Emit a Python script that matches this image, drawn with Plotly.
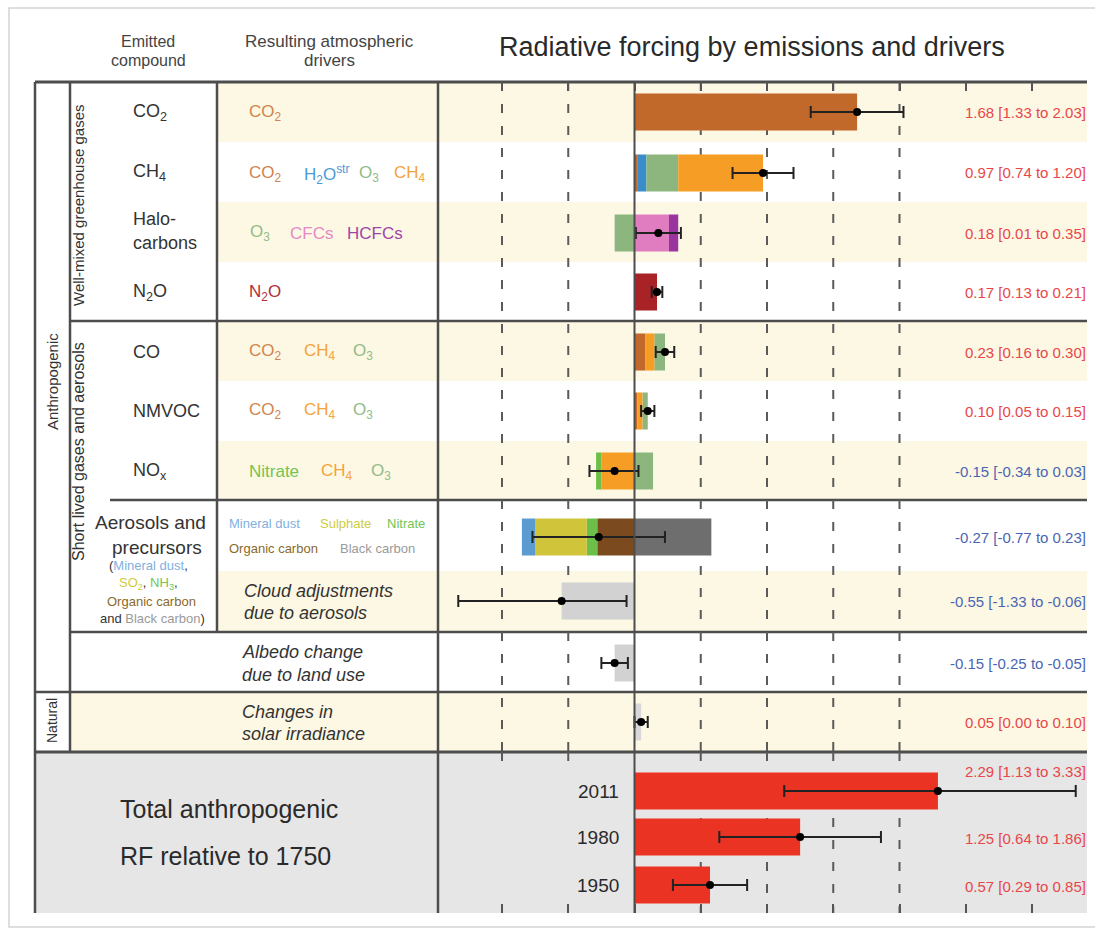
import plotly.graph_objects as go

W, H = 1095, 928

# ---------------- data ----------------
row_names = ["CO2", "CH4", "Halocarbons", "N2O", "CO", "NMVOC", "NOx",
             "Aerosols", "Cloud adjustments", "Albedo", "Solar"]

part_names = [
    ["CO2"],
    ["CO2", "H2O", "O3", "CH4"],
    ["O3", "CFCs", "HCFCs"],
    ["N2O"],
    ["CO2", "CH4", "O3"],
    ["CO2", "CH4", "O3"],
    ["CH4", "Nitrate", "O3"],
    ["Organic carbon", "Nitrate", "Sulphate", "Mineral dust", "Black carbon"],
    ["Cloud"],
    ["Albedo"],
    ["Solar"],
]
part_values = [
    [1.68],
    [0.02, 0.07, 0.24, 0.64],
    [-0.15, 0.26, 0.07],
    [0.17],
    [0.08, 0.07, 0.08],
    [0.02, 0.04, 0.04],
    [-0.25, -0.04, 0.14],
    [-0.28, -0.08, -0.39, -0.10, 0.58],
    [-0.55],
    [-0.15],
    [0.05],
]
best = [1.68, 0.97, 0.18, 0.17, 0.23, 0.10, -0.15, -0.27, -0.55, -0.15, 0.05]
low = [1.33, 0.74, 0.01, 0.13, 0.16, 0.05, -0.34, -0.77, -1.33, -0.25, 0.00]
high = [2.03, 1.20, 0.35, 0.21, 0.30, 0.15, 0.03, 0.23, -0.06, -0.05, 0.10]

total_years = ["2011", "1980", "1950"]
total_best = [2.29, 1.25, 0.57]
total_low = [1.13, 0.64, 0.29]
total_high = [3.33, 1.86, 0.85]

# ---------------- styling ----------------
colors = {
    "CO2": "#c1692b", "H2O": "#3a8dc9", "O3": "#8db67f", "CH4": "#f59d25",
    "CFCs": "#e07cc0", "HCFCs": "#9a35a0", "N2O": "#a82226",
    "Nitrate": "#6cc04a", "Mineral dust": "#5b9bd0", "Sulphate": "#cfc43a",
    "Organic carbon": "#7b4a1e", "Black carbon": "#6e6e6e",
    "Cloud": "#d2d2d2", "Albedo": "#d2d2d2", "Solar": "#d8d8d8",
    "Total": "#ea3323",
}
text_colors = {
    "CO2": "#d0844e", "H2O": "#4b9ad6", "O3": "#93bb88", "CH4": "#f5a33a",
    "CFCs": "#e58ac6", "HCFCs": "#a044a8", "N2O": "#b0303a",
    "Nitrate": "#72c454", "Mineral dust": "#7fb0df", "Sulphate": "#cfcb42",
    "Organic carbon": "#8a6a2a", "Black carbon": "#9a9a9a",
}
POS, NEG = "#e8474a", "#4a66b3"
DARK = "#333333"
LINE = "#4d4d4d"
BEIGE = "#fdf8e4"
FONT = "Liberation Sans, Arial, sans-serif"

# row centres (pixel rows of the table)
row_y = [112, 173, 233, 292, 352, 411, 471, 537, 601, 663, 722]
total_y = [791, 837, 885]
BAR_H = 37

# x axis: value -> pixel is 634.5 + 132.5 * value
X0_PX, X1_PX = 438, 1087
ZERO_PX, UNIT = 634.5, 132.5
Y_TOP, Y_BOT = 82, 913


def px(x):
    return x / W


def py(y):
    return 1 - y / H


fig = go.Figure()

# stacked component bars
seg = {}
for yy, names, vals in zip(row_y, part_names, part_values):
    pos_acc, neg_acc = 0.0, 0.0
    for n, v in zip(names, vals):
        if v >= 0:
            base = pos_acc
            pos_acc += v
        else:
            base = neg_acc
            neg_acc += v
        d = seg.setdefault(n, {"x": [], "y": [], "base": []})
        d["x"].append(v)
        d["y"].append(yy)
        d["base"].append(base)

for n, d in seg.items():
    fig.add_trace(go.Bar(
        x=d["x"], y=d["y"], base=d["base"], orientation="h", width=BAR_H,
        marker=dict(color=colors[n], line=dict(width=0)), name=n,
        showlegend=False, hoverinfo="skip"))

# total anthropogenic bars
fig.add_trace(go.Bar(
    x=total_best, y=total_y, base=[0] * len(total_best), orientation="h",
    width=BAR_H, marker=dict(color=colors["Total"], line=dict(width=0)),
    showlegend=False, hoverinfo="skip"))

# uncertainty ranges with best estimates
all_best = best + total_best
all_low = low + total_low
all_high = high + total_high
all_y = row_y + total_y
fig.add_trace(go.Scatter(
    x=all_best, y=all_y, mode="markers",
    marker=dict(color="black", size=8),
    error_x=dict(type="data", symmetric=False,
                 array=[h - b for h, b in zip(all_high, all_best)],
                 arrayminus=[b - l for b, l in zip(all_best, all_low)],
                 color="#222222", thickness=2, width=6),
    showlegend=False, hoverinfo="skip"))

shapes = []


def rect(x0, y0, x1, y1, fill, layer="below"):
    shapes.append(dict(type="rect", xref="paper", yref="paper",
                       x0=px(x0), x1=px(x1), y0=py(y0), y1=py(y1),
                       fillcolor=fill, line=dict(width=0), layer=layer))


def hline(y, x0, x1, w=2.5, color=LINE, layer="below"):
    shapes.append(dict(type="line", xref="paper", yref="paper",
                       x0=px(x0), x1=px(x1), y0=py(y), y1=py(y),
                       line=dict(color=color, width=w), layer=layer))


def vline(x, y0, y1, w=2.5, color=LINE, layer="below"):
    shapes.append(dict(type="line", xref="paper", yref="paper",
                       x0=px(x), x1=px(x), y0=py(y0), y1=py(y1),
                       line=dict(color=color, width=w), layer=layer))


# page frame
shapes.append(dict(type="rect", xref="paper", yref="paper",
                   x0=px(9), x1=px(1100), y0=py(8), y1=py(927),
                   line=dict(color="#d4d4d4", width=1.5), layer="below"))

# row shading
rect(35, 752, X1_PX, Y_BOT, "#e6e6e6")
for y0, y1 in [(82, 142), (202, 262), (321, 381), (441, 500), (571, 632)]:
    rect(217, y0, X1_PX, y1, BEIGE)
rect(70, 692, X1_PX, 752, BEIGE)

# dashed reference lines
for v in [-1, -0.5, 0.5, 1, 1.5, 2]:
    shapes.append(dict(type="line", xref="x", yref="y", x0=v, x1=v,
                       y0=Y_TOP, y1=752, layer="below",
                       line=dict(color="#5a5a5a", width=2, dash="9px,13px")))
for v in [0.5, 1, 1.5, 2]:
    shapes.append(dict(type="line", xref="x", yref="y", x0=v, x1=v,
                       y0=752, y1=Y_BOT, layer="below",
                       line=dict(color="#5a5a5a", width=2, dash="9px,13px")))
for v in [-1, -0.5]:
    shapes.append(dict(type="line", xref="x", yref="y", x0=v, x1=v,
                       y0=752, y1=761, layer="below",
                       line=dict(color="#5a5a5a", width=2)))

# table rules
hline(82, 35, X1_PX, 3)
hline(321, 70, X1_PX)
hline(500, 110, X1_PX)
hline(632, 70, X1_PX)
hline(692, 35, X1_PX)
hline(752, 35, X1_PX, 3)
vline(35, 82, Y_BOT)
vline(70, 82, 752)
vline(217, 82, 632)
vline(X0_PX, 82, Y_BOT)
# zero line
shapes.append(dict(type="line", xref="x", yref="y", x0=0, x1=0,
                   y0=Y_TOP, y1=Y_BOT, layer="above",
                   line=dict(color=LINE, width=2)))

ann = []


def text(x, y, s, size=18, color=DARK, anchor="left", family=FONT, angle=0):
    ann.append(dict(xref="paper", yref="paper", x=px(x), y=py(y), text=s,
                    showarrow=False, xanchor=anchor, yanchor="middle",
                    textangle=angle,
                    font=dict(size=size, color=color, family=family)))


# headers
text(752, 47, "Radiative forcing by emissions and drivers", 27, "#2a2a2a", "center")
text(148, 41, "Emitted", 16, "#444", "center")
text(148, 61, "compound", 16, "#444", "center")
text(329, 41, "Resulting atmospheric", 17, "#444", "center")
text(329, 61, "drivers", 17, "#444", "center")

# group labels (vertical)
text(52, 382, "Anthropogenic", 15, DARK, "center", angle=-90)
text(52, 721, "Natural", 14, DARK, "center", angle=-90)
text(78, 205, "Well-mixed greenhouse gases", 15, DARK, "center", angle=-90)
text(79, 452, "Short lived gases and aerosols", 16, DARK, "center", angle=-90)

# emitted compounds
compounds = ["CO<sub>2</sub>", "CH<sub>4</sub>", None, "N<sub>2</sub>O",
             "CO", "NMVOC", "NO<sub>x</sub>"]
for s, yy in zip(compounds, row_y):
    if s:
        text(131, yy, s, 18)
text(131, 219, "Halo-", 18)
text(131, 243, "carbons", 18)
text(150, 522, "Aerosols and", 19, DARK, "center")
text(157, 547, "precursors", 19, DARK, "center")
small = 13
ann.append(dict(xref="paper", yref="paper", x=px(148), y=py(565),
                text="(<span style='color:%s'>Mineral dust</span>," % text_colors["Mineral dust"],
                showarrow=False, xanchor="center", yanchor="middle",
                font=dict(size=small, color=DARK, family=FONT)))
ann.append(dict(xref="paper", yref="paper", x=px(148), y=py(583),
                text="<span style='color:%s'>SO<sub>2</sub></span>, "
                     "<span style='color:%s'>NH<sub>3</sub></span>,"
                     % (text_colors["Sulphate"], text_colors["Nitrate"]),
                showarrow=False, xanchor="center", yanchor="middle",
                font=dict(size=small, color=DARK, family=FONT)))
text(151, 601, "Organic carbon", small, text_colors["Organic carbon"], "center")
ann.append(dict(xref="paper", yref="paper", x=px(152), y=py(618),
                text="and <span style='color:%s'>Black carbon</span>)" % text_colors["Black carbon"],
                showarrow=False, xanchor="center", yanchor="middle",
                font=dict(size=small, color=DARK, family=FONT)))

# resulting drivers
drv = text_colors
text(247, 113, "CO<sub>2</sub>", 17, drv["CO2"])
for s, x, c in [("CO<sub>2</sub>", 247, "CO2"), ("H<sub>2</sub>O<sup>str</sup>", 302, "H2O"),
                ("O<sub>3</sub>", 357, "O3"), ("CH<sub>4</sub>", 392, "CH4")]:
    text(x, 174, s, 17, drv[c])
for s, x, c in [("O<sub>3</sub>", 248, "O3"), ("CFCs", 288, "CFCs"), ("HCFCs", 345, "HCFCs")]:
    text(x, 233, s, 17, drv[c])
text(247, 293, "N<sub>2</sub>O", 17, drv["N2O"])
for yy in [352, 411]:
    for s, x, c in [("CO<sub>2</sub>", 247, "CO2"), ("CH<sub>4</sub>", 302, "CH4"),
                    ("O<sub>3</sub>", 351, "O3")]:
        text(x, yy, s, 17, drv[c])
for s, x, c in [("Nitrate", 247, "Nitrate"), ("CH<sub>4</sub>", 319, "CH4"),
                ("O<sub>3</sub>", 369, "O3")]:
    text(x, 472, s, 17, drv[c])
for s, x, c in [("Mineral dust", 227, "Mineral dust"), ("Sulphate", 318, "Sulphate"),
                ("Nitrate", 385, "Nitrate")]:
    text(x, 523, s, 13, drv[c])
for s, x, c in [("Organic carbon", 227, "Organic carbon"), ("Black carbon", 338, "Black carbon")]:
    text(x, 548, s, 13, drv[c])

ital = "<i>%s</i>"
text(242, 591, ital % "Cloud adjustments", 18)
text(242, 613, ital % "due to aerosols", 18)
text(240, 652, ital % "Albedo change", 18)
text(240, 675, ital % "due to land use", 18)
text(240, 712, ital % "Changes in", 18)
text(240, 734, ital % "solar irradiance", 18)

# value labels
for b, l, h, yy in zip(best, low, high, row_y):
    text(1088, yy, "%.2f [%.2f to %.2f]" % (b, l, h), 15,
         POS if b >= 0 else NEG, "right")
label_y = [771, 838, 886]
for b, l, h, yy in zip(total_best, total_low, total_high, label_y):
    text(1088, yy, "%.2f [%.2f to %.2f]" % (b, l, h), 15, POS, "right")

# total anthropogenic block
text(118, 809, "Total anthropogenic", 25, "#2a2a2a")
text(118, 856, "RF relative to 1750", 25, "#2a2a2a")
for s, yy in zip(total_years, total_y):
    text(621, yy, s, 19, "#2a2a2a", "right")

fig.update_layout(
    width=W, height=H, margin=dict(l=0, r=0, t=0, b=0),
    paper_bgcolor="white", plot_bgcolor="rgba(0,0,0,0)",
    barmode="overlay", showlegend=False,
    shapes=shapes, annotations=ann,
    xaxis=dict(domain=[px(X0_PX), px(X1_PX)],
               range=[(X0_PX - ZERO_PX) / UNIT, (X1_PX - ZERO_PX) / UNIT],
               showgrid=False, zeroline=False, showline=False,
               showticklabels=False, ticks="inside", ticklen=9,
               tickwidth=2, tickcolor="#555", mirror="ticks",
               tick0=0, dtick=0.5, fixedrange=True),
    yaxis=dict(domain=[py(Y_BOT), py(Y_TOP)], range=[Y_BOT, Y_TOP],
               visible=False, fixedrange=True),
    font=dict(family=FONT),
)

fig.write_html("out.html")
